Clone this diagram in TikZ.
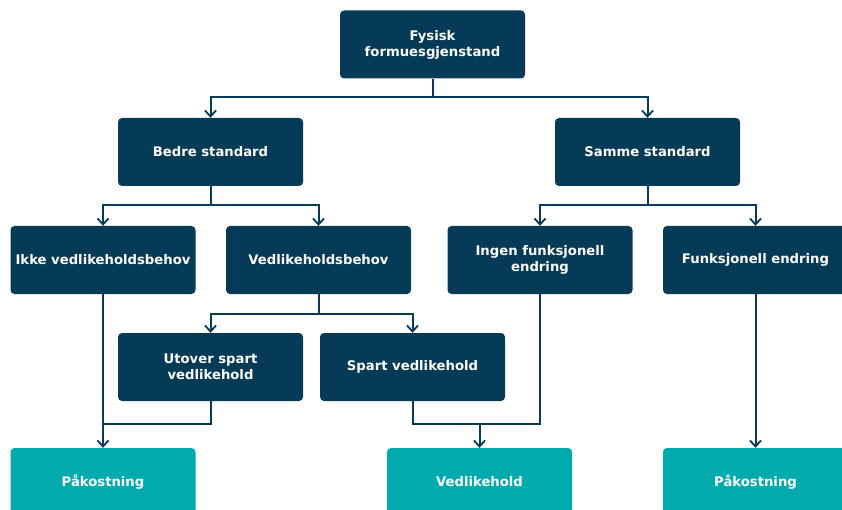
\documentclass[tikz,border=0pt]{standalone}
\usepackage{fontspec}
\setmainfont{DejaVu Sans}
\usetikzlibrary{arrows.meta}
\definecolor{navy}{HTML}{053B56}
\definecolor{teal}{HTML}{00AAAD}
\begin{document}
\begin{tikzpicture}[x=1pt,y=-1pt,
  box/.style={fill=navy, rounded corners=4pt, minimum width=185pt, minimum height=68pt,
    text=white, font=\bfseries\fontsize{13.2}{16}\selectfont, align=center, inner sep=0pt},
  endbox/.style={box, fill=teal},
  conn/.style={draw=navy, line width=2pt},
  arr/.style={conn, -{Straight Barb[length=6pt,width=11pt,line width=1.8pt]}}]
\useasboundingbox (0,0) rectangle (842,510);
\clip (0,0) rectangle (842,510);
\node[box] (top) at (432.5,44.5) {Fysisk\\formuesgjenstand};
\node[box] (bedre) at (210.5,152) {Bedre standard};
\node[box] (samme) at (647.5,152) {Samme standard};
\node[box] (ikke) at (103,260) {Ikke vedlikeholdsbehov};
\node[box] (vbehov) at (318.5,260) {Vedlikeholdsbehov};
\node[box] (ingen) at (540,260) {Ingen funksjonell\\endring};
\node[box] (funk) at (755.5,260) {Funksjonell endring};
\node[box] (utover) at (210.5,367) {Utover spart\\vedlikehold};
\node[box] (spart) at (412.5,367) {Spart vedlikehold};
\node[endbox] (pak1) at (103,482) {Påkostning};
\node[endbox] (vedl) at (479.5,482) {Vedlikehold};
\node[endbox] (pak2) at (755.5,482) {Påkostning};
% junction coordinates
\coordinate (j1) at (432.5,97);
\coordinate (j2) at (210.5,205);
\coordinate (j3) at (647.5,205);
\coordinate (j4) at (318.5,314);
\coordinate (j5) at (103,424);
\coordinate (j6) at (479.5,424);
% top level
\draw[conn] (top.south) -- (j1);
\draw[arr] (j1) -| (bedre.north);
\draw[arr] (j1) -| (samme.north);
% bedre
\draw[conn] (bedre.south) -- (j2);
\draw[arr] (j2) -| (ikke.north);
\draw[arr] (j2) -| (vbehov.north);
% samme
\draw[conn] (samme.south) -- (j3);
\draw[arr] (j3) -| (ingen.north);
\draw[arr] (j3) -| (funk.north);
% vedlikeholdsbehov
\draw[conn] (vbehov.south) -- (j4);
\draw[arr] (j4) -| (utover.north);
\draw[arr] (j4) -| (spart.north);
% to outcomes
\draw[arr] (ikke.south) -- (pak1.north);
\draw[conn] (utover.south) |- (j5);
\draw[conn] (spart.south) |- (j6);
\draw[conn] (ingen.south) |- (j6);
\draw[arr] (j6) -- (vedl.north);
\draw[arr] (funk.south) -- (pak2.north);
\end{tikzpicture}
\end{document}
